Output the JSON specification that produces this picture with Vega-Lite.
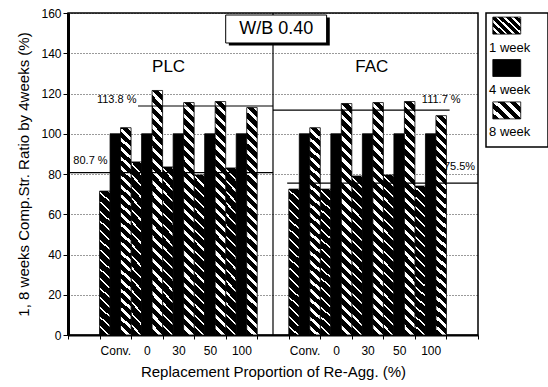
{
  "$schema": "https://vega.github.io/schema/vega-lite/v6.json",
  "padding": {"left": 16, "top": 6, "right": 0, "bottom": 0},
  "config": {
    "font": "Liberation Sans",
    "view": {"stroke": "#000", "strokeWidth": 1.5},
    "concat": {"spacing": 5}
  },
  "datasets": {
    "str": [
      {"slot": "PLC|Conv.", "series": "1 week", "value": 71.5},
      {"slot": "PLC|Conv.", "series": "4 week", "value": 100},
      {"slot": "PLC|Conv.", "series": "8 week", "value": 103},
      {"slot": "PLC|0", "series": "1 week", "value": 86},
      {"slot": "PLC|0", "series": "4 week", "value": 100},
      {"slot": "PLC|0", "series": "8 week", "value": 121.5},
      {"slot": "PLC|30", "series": "1 week", "value": 83.5},
      {"slot": "PLC|30", "series": "4 week", "value": 100},
      {"slot": "PLC|30", "series": "8 week", "value": 115.5},
      {"slot": "PLC|50", "series": "1 week", "value": 79.5},
      {"slot": "PLC|50", "series": "4 week", "value": 100},
      {"slot": "PLC|50", "series": "8 week", "value": 116},
      {"slot": "PLC|100", "series": "1 week", "value": 83},
      {"slot": "PLC|100", "series": "4 week", "value": 100},
      {"slot": "PLC|100", "series": "8 week", "value": 113},
      {"slot": "FAC|Conv.", "series": "1 week", "value": 72.5},
      {"slot": "FAC|Conv.", "series": "4 week", "value": 100},
      {"slot": "FAC|Conv.", "series": "8 week", "value": 103},
      {"slot": "FAC|0", "series": "1 week", "value": 72.5},
      {"slot": "FAC|0", "series": "4 week", "value": 100},
      {"slot": "FAC|0", "series": "8 week", "value": 115},
      {"slot": "FAC|30", "series": "1 week", "value": 79},
      {"slot": "FAC|30", "series": "4 week", "value": 100},
      {"slot": "FAC|30", "series": "8 week", "value": 115.5},
      {"slot": "FAC|50", "series": "1 week", "value": 79.5},
      {"slot": "FAC|50", "series": "4 week", "value": 100},
      {"slot": "FAC|50", "series": "8 week", "value": 116},
      {"slot": "FAC|100", "series": "1 week", "value": 74},
      {"slot": "FAC|100", "series": "4 week", "value": 100},
      {"slot": "FAC|100", "series": "8 week", "value": 109}
    ]
  },
  "hconcat": [
    {
      "width": 410,
      "height": 322,
      "resolve": {"scale": {"x": "independent"}},
      "layer": [
        {
          "data": {"values": [{}]},
          "mark": {"type": "text", "align": "left", "baseline": "bottom", "dy": -7, "fontSize": 11, "color": "#000"},
          "encoding": {
            "x": {"datum": 0.17, "type": "quantitative", "scale": {"domain": [0, 13], "nice": false, "zero": false}, "axis": null},
            "y": {"datum": 80.7, "type": "quantitative", "scale": {"domain": [0, 160]}, "axis": {"values": [0, 20, 40, 60, 80, 100, 120, 140, 160], "grid": true, "gridDash": [1, 2], "gridColor": "#000", "gridWidth": 0.8, "domainColor": "#000", "domainWidth": 3, "tickColor": "#000", "tickSize": 5, "labelFontSize": 12, "labelColor": "#000", "labelPadding": 2, "title": "1, 8 weeks Comp.Str. Ratio by 4weeks (%)", "titleFontSize": 15, "titleFontWeight": "normal", "titleColor": "#000", "titlePadding": 9}},
            "text": {"value": "80.7 %"}
          }
        },
        {
          "data": {"name": "str"},
          "encoding": {
            "x": {
              "field": "slot", "type": "nominal",
              "scale": {"domain": ["e1", "PLC|Conv.", "PLC|0", "PLC|30", "PLC|50", "PLC|100", "gap", "FAC|Conv.", "FAC|0", "FAC|30", "FAC|50", "FAC|100", "e2"], "paddingInner": 0, "paddingOuter": 0},
              "axis": {"orient": "bottom", "tickBand": "extent", "labelExpr": "indexof('' + datum.value, '|') > 0 ? split('' + datum.value, '|')[1] : ''", "labelAngle": 0, "domainColor": "#000", "domainWidth": 2, "tickColor": "#000", "tickSize": 4, "labelFontSize": 12, "labelColor": "#000", "labelPadding": 6, "title": "Replacement Proportion of Re-Agg. (%)", "titleFontSize": 15, "titleFontWeight": "normal", "titleColor": "#000", "titlePadding": 8, "grid": false}
            },
            "y": {"field": "value", "type": "quantitative", "scale": {"domain": [0, 160]}}
          },
          "layer": [
            {
              "transform": [{"filter": "datum.series === '1 week'"}],
              "mark": {"type": "bar", "width": {"band": 0.3333}, "xOffset": -10.5, "stroke": "#000", "strokeWidth": 0.8,
                "fill": {"gradient": "linear", "x1": 0, "y1": 1, "x2": 0.0708, "y2": -0.062, "stops": [
                  {"offset": 0, "color": "#000"}, {"offset": 0.05, "color": "#000"}, {"offset": 0.05, "color": "#fff"}, {"offset": 0.0625, "color": "#fff"},
                  {"offset": 0.0625, "color": "#000"}, {"offset": 0.1125, "color": "#000"}, {"offset": 0.1125, "color": "#fff"}, {"offset": 0.125, "color": "#fff"},
                  {"offset": 0.125, "color": "#000"}, {"offset": 0.175, "color": "#000"}, {"offset": 0.175, "color": "#fff"}, {"offset": 0.1875, "color": "#fff"},
                  {"offset": 0.1875, "color": "#000"}, {"offset": 0.2375, "color": "#000"}, {"offset": 0.2375, "color": "#fff"}, {"offset": 0.25, "color": "#fff"},
                  {"offset": 0.25, "color": "#000"}, {"offset": 0.3, "color": "#000"}, {"offset": 0.3, "color": "#fff"}, {"offset": 0.3125, "color": "#fff"},
                  {"offset": 0.3125, "color": "#000"}, {"offset": 0.3625, "color": "#000"}, {"offset": 0.3625, "color": "#fff"}, {"offset": 0.375, "color": "#fff"},
                  {"offset": 0.375, "color": "#000"}, {"offset": 0.425, "color": "#000"}, {"offset": 0.425, "color": "#fff"}, {"offset": 0.4375, "color": "#fff"},
                  {"offset": 0.4375, "color": "#000"}, {"offset": 0.4875, "color": "#000"}, {"offset": 0.4875, "color": "#fff"}, {"offset": 0.5, "color": "#fff"},
                  {"offset": 0.5, "color": "#000"}, {"offset": 0.55, "color": "#000"}, {"offset": 0.55, "color": "#fff"}, {"offset": 0.5625, "color": "#fff"},
                  {"offset": 0.5625, "color": "#000"}, {"offset": 0.6125, "color": "#000"}, {"offset": 0.6125, "color": "#fff"}, {"offset": 0.625, "color": "#fff"},
                  {"offset": 0.625, "color": "#000"}, {"offset": 0.675, "color": "#000"}, {"offset": 0.675, "color": "#fff"}, {"offset": 0.6875, "color": "#fff"},
                  {"offset": 0.6875, "color": "#000"}, {"offset": 0.7375, "color": "#000"}, {"offset": 0.7375, "color": "#fff"}, {"offset": 0.75, "color": "#fff"},
                  {"offset": 0.75, "color": "#000"}, {"offset": 0.8, "color": "#000"}, {"offset": 0.8, "color": "#fff"}, {"offset": 0.8125, "color": "#fff"},
                  {"offset": 0.8125, "color": "#000"}, {"offset": 0.8625, "color": "#000"}, {"offset": 0.8625, "color": "#fff"}, {"offset": 0.875, "color": "#fff"},
                  {"offset": 0.875, "color": "#000"}, {"offset": 0.925, "color": "#000"}, {"offset": 0.925, "color": "#fff"}, {"offset": 0.9375, "color": "#fff"},
                  {"offset": 0.9375, "color": "#000"}, {"offset": 0.9875, "color": "#000"}, {"offset": 0.9875, "color": "#fff"}, {"offset": 1, "color": "#fff"}
                ]}
              }
            },
            {
              "transform": [{"filter": "datum.series === '4 week'"}],
              "mark": {"type": "bar", "width": {"band": 0.3333}, "xOffset": 0, "fill": "#000", "stroke": "#000", "strokeWidth": 0.8}
            },
            {
              "transform": [{"filter": "datum.series === '8 week'"}],
              "mark": {"type": "bar", "width": {"band": 0.3333}, "xOffset": 10.5, "stroke": "#000", "strokeWidth": 0.8,
                "fill": {"gradient": "linear", "x1": 0, "y1": 1, "x2": 0.0474, "y2": -0.0433, "stops": [
                  {"offset": 0, "color": "#000"}, {"offset": 0.0261, "color": "#000"}, {"offset": 0.0261, "color": "#fff"}, {"offset": 0.0435, "color": "#fff"},
                  {"offset": 0.0435, "color": "#000"}, {"offset": 0.0696, "color": "#000"}, {"offset": 0.0696, "color": "#fff"}, {"offset": 0.087, "color": "#fff"},
                  {"offset": 0.087, "color": "#000"}, {"offset": 0.113, "color": "#000"}, {"offset": 0.113, "color": "#fff"}, {"offset": 0.1304, "color": "#fff"},
                  {"offset": 0.1304, "color": "#000"}, {"offset": 0.1565, "color": "#000"}, {"offset": 0.1565, "color": "#fff"}, {"offset": 0.1739, "color": "#fff"},
                  {"offset": 0.1739, "color": "#000"}, {"offset": 0.2, "color": "#000"}, {"offset": 0.2, "color": "#fff"}, {"offset": 0.2174, "color": "#fff"},
                  {"offset": 0.2174, "color": "#000"}, {"offset": 0.2435, "color": "#000"}, {"offset": 0.2435, "color": "#fff"}, {"offset": 0.2609, "color": "#fff"},
                  {"offset": 0.2609, "color": "#000"}, {"offset": 0.287, "color": "#000"}, {"offset": 0.287, "color": "#fff"}, {"offset": 0.3043, "color": "#fff"},
                  {"offset": 0.3043, "color": "#000"}, {"offset": 0.3304, "color": "#000"}, {"offset": 0.3304, "color": "#fff"}, {"offset": 0.3478, "color": "#fff"},
                  {"offset": 0.3478, "color": "#000"}, {"offset": 0.3739, "color": "#000"}, {"offset": 0.3739, "color": "#fff"}, {"offset": 0.3913, "color": "#fff"},
                  {"offset": 0.3913, "color": "#000"}, {"offset": 0.4174, "color": "#000"}, {"offset": 0.4174, "color": "#fff"}, {"offset": 0.4348, "color": "#fff"},
                  {"offset": 0.4348, "color": "#000"}, {"offset": 0.4609, "color": "#000"}, {"offset": 0.4609, "color": "#fff"}, {"offset": 0.4783, "color": "#fff"},
                  {"offset": 0.4783, "color": "#000"}, {"offset": 0.5043, "color": "#000"}, {"offset": 0.5043, "color": "#fff"}, {"offset": 0.5217, "color": "#fff"},
                  {"offset": 0.5217, "color": "#000"}, {"offset": 0.5478, "color": "#000"}, {"offset": 0.5478, "color": "#fff"}, {"offset": 0.5652, "color": "#fff"},
                  {"offset": 0.5652, "color": "#000"}, {"offset": 0.5913, "color": "#000"}, {"offset": 0.5913, "color": "#fff"}, {"offset": 0.6087, "color": "#fff"},
                  {"offset": 0.6087, "color": "#000"}, {"offset": 0.6348, "color": "#000"}, {"offset": 0.6348, "color": "#fff"}, {"offset": 0.6522, "color": "#fff"},
                  {"offset": 0.6522, "color": "#000"}, {"offset": 0.6783, "color": "#000"}, {"offset": 0.6783, "color": "#fff"}, {"offset": 0.6957, "color": "#fff"},
                  {"offset": 0.6957, "color": "#000"}, {"offset": 0.7217, "color": "#000"}, {"offset": 0.7217, "color": "#fff"}, {"offset": 0.7391, "color": "#fff"},
                  {"offset": 0.7391, "color": "#000"}, {"offset": 0.7652, "color": "#000"}, {"offset": 0.7652, "color": "#fff"}, {"offset": 0.7826, "color": "#fff"},
                  {"offset": 0.7826, "color": "#000"}, {"offset": 0.8087, "color": "#000"}, {"offset": 0.8087, "color": "#fff"}, {"offset": 0.8261, "color": "#fff"},
                  {"offset": 0.8261, "color": "#000"}, {"offset": 0.8522, "color": "#000"}, {"offset": 0.8522, "color": "#fff"}, {"offset": 0.8696, "color": "#fff"},
                  {"offset": 0.8696, "color": "#000"}, {"offset": 0.8957, "color": "#000"}, {"offset": 0.8957, "color": "#fff"}, {"offset": 0.913, "color": "#fff"},
                  {"offset": 0.913, "color": "#000"}, {"offset": 0.9391, "color": "#000"}, {"offset": 0.9391, "color": "#fff"}, {"offset": 0.9565, "color": "#fff"},
                  {"offset": 0.9565, "color": "#000"}, {"offset": 0.9826, "color": "#000"}, {"offset": 0.9826, "color": "#fff"}, {"offset": 1, "color": "#fff"}
                ]}
              }
            }
          ]
        },
        {
          "data": {"values": [{}]},
          "layer": [
            {
              "mark": {"type": "rule", "color": "#000", "strokeWidth": 1.2},
              "encoding": {
                "x": {"datum": 6.5, "type": "quantitative", "scale": {"domain": [0, 13], "nice": false, "zero": false}, "axis": null},
                "y": {"datum": 0, "type": "quantitative"},
                "y2": {"datum": 160}
              }
            },
            {
              "mark": {"type": "rule", "color": "#000", "strokeWidth": 1.2},
              "encoding": {
                "x": {"datum": 0, "type": "quantitative", "scale": {"domain": [0, 13], "nice": false, "zero": false}, "axis": null},
                "x2": {"datum": 6.5},
                "y": {"datum": 80.7, "type": "quantitative"}
              }
            },
            {
              "mark": {"type": "rule", "color": "#000", "strokeWidth": 1.2},
              "encoding": {
                "x": {"datum": 2.22, "type": "quantitative", "scale": {"domain": [0, 13], "nice": false, "zero": false}, "axis": null},
                "x2": {"datum": 6.5},
                "y": {"datum": 113.8, "type": "quantitative"}
              }
            },
            {
              "mark": {"type": "rule", "color": "#000", "strokeWidth": 1.2},
              "encoding": {
                "x": {"datum": 6.5, "type": "quantitative", "scale": {"domain": [0, 13], "nice": false, "zero": false}, "axis": null},
                "x2": {"datum": 12.1},
                "y": {"datum": 111.7, "type": "quantitative"}
              }
            },
            {
              "mark": {"type": "rule", "color": "#000", "strokeWidth": 1.2},
              "encoding": {
                "x": {"datum": 6.95, "type": "quantitative", "scale": {"domain": [0, 13], "nice": false, "zero": false}, "axis": null},
                "x2": {"datum": 13},
                "y": {"datum": 75.5, "type": "quantitative"}
              }
            },
            {
              "mark": {"type": "text", "align": "right", "baseline": "bottom", "dy": -1, "fontSize": 11, "color": "#000"},
              "encoding": {
                "x": {"datum": 2.17, "type": "quantitative", "scale": {"domain": [0, 13], "nice": false, "zero": false}, "axis": null},
                "y": {"datum": 113.8, "type": "quantitative"},
                "text": {"value": "113.8 %"}
              }
            },
            {
              "mark": {"type": "text", "align": "left", "baseline": "bottom", "dy": -5, "fontSize": 11, "color": "#000"},
              "encoding": {
                "x": {"datum": 11.22, "type": "quantitative", "scale": {"domain": [0, 13], "nice": false, "zero": false}, "axis": null},
                "y": {"datum": 111.7, "type": "quantitative"},
                "text": {"value": "111.7 %"}
              }
            },
            {
              "mark": {"type": "text", "align": "left", "baseline": "bottom", "dy": -11, "fontSize": 11, "color": "#000"},
              "encoding": {
                "x": {"datum": 11.92, "type": "quantitative", "scale": {"domain": [0, 13], "nice": false, "zero": false}, "axis": null},
                "y": {"datum": 75.5, "type": "quantitative"},
                "text": {"value": "75.5%"}
              }
            },
            {
              "mark": {"type": "text", "align": "center", "baseline": "middle", "fontSize": 17, "color": "#000"},
              "encoding": {
                "x": {"datum": 3.19, "type": "quantitative", "scale": {"domain": [0, 13], "nice": false, "zero": false}, "axis": null},
                "y": {"datum": 133.2, "type": "quantitative"},
                "text": {"value": "PLC"}
              }
            },
            {
              "mark": {"type": "text", "align": "center", "baseline": "middle", "fontSize": 17, "color": "#000"},
              "encoding": {
                "x": {"datum": 9.63, "type": "quantitative", "scale": {"domain": [0, 13], "nice": false, "zero": false}, "axis": null},
                "y": {"datum": 133.2, "type": "quantitative"},
                "text": {"value": "FAC"}
              }
            },
            {
              "mark": {"type": "rect", "fill": "#000"},
              "encoding": {
                "x": {"datum": 5.1, "type": "quantitative", "scale": {"domain": [0, 13], "nice": false, "zero": false}, "axis": null},
                "x2": {"datum": 8.3},
                "y": {"datum": 157.8, "type": "quantitative"},
                "y2": {"datum": 143.8}
              }
            },
            {
              "mark": {"type": "rect", "fill": "#fff", "stroke": "#000", "strokeWidth": 1},
              "encoding": {
                "x": {"datum": 5.0, "type": "quantitative", "scale": {"domain": [0, 13], "nice": false, "zero": false}, "axis": null},
                "x2": {"datum": 8.2},
                "y": {"datum": 159, "type": "quantitative"},
                "y2": {"datum": 145.1}
              }
            },
            {
              "mark": {"type": "text", "align": "center", "baseline": "middle", "fontSize": 18, "color": "#000"},
              "encoding": {
                "x": {"datum": 6.6, "type": "quantitative", "scale": {"domain": [0, 13], "nice": false, "zero": false}, "axis": null},
                "y": {"datum": 152, "type": "quantitative"},
                "text": {"value": "W/B 0.40"}
              }
            }
          ]
        }
      ]
    },
    {
      "width": 62,
      "height": 134,
      "data": {"name": "str"},
      "transform": [{"filter": "datum.slot === 'PLC|Conv.'"}],
      "encoding": {
        "y": {"field": "series", "type": "nominal", "scale": {"domain": ["1 week", "4 week", "8 week"], "paddingInner": 0, "paddingOuter": 0.08}, "axis": null}
      },
      "layer": [
        {
          "transform": [{"filter": "datum.series === '1 week'"}],
          "mark": {"type": "bar", "height": 17, "yOffset": -12, "stroke": "#000", "strokeWidth": 0.8,
            "fill": {"gradient": "linear", "x1": 0, "y1": 1, "x2": 1.163, "y2": 0.256, "stops": [
              {"offset": 0, "color": "#000"}, {"offset": 0.1083, "color": "#000"}, {"offset": 0.1083, "color": "#fff"}, {"offset": 0.1667, "color": "#fff"},
              {"offset": 0.1667, "color": "#000"}, {"offset": 0.275, "color": "#000"}, {"offset": 0.275, "color": "#fff"}, {"offset": 0.3333, "color": "#fff"},
              {"offset": 0.3333, "color": "#000"}, {"offset": 0.4417, "color": "#000"}, {"offset": 0.4417, "color": "#fff"}, {"offset": 0.5, "color": "#fff"},
              {"offset": 0.5, "color": "#000"}, {"offset": 0.6083, "color": "#000"}, {"offset": 0.6083, "color": "#fff"}, {"offset": 0.6667, "color": "#fff"},
              {"offset": 0.6667, "color": "#000"}, {"offset": 0.775, "color": "#000"}, {"offset": 0.775, "color": "#fff"}, {"offset": 0.8333, "color": "#fff"},
              {"offset": 0.8333, "color": "#000"}, {"offset": 0.9417, "color": "#000"}, {"offset": 0.9417, "color": "#fff"}, {"offset": 1, "color": "#fff"}
            ]}
          },
          "encoding": {
            "x": {"datum": 1.1, "type": "quantitative", "scale": {"domain": [0, 10], "nice": false, "zero": false}, "axis": null},
            "x2": {"datum": 5.6}
          }
        },
        {
          "transform": [{"filter": "datum.series === '4 week'"}],
          "mark": {"type": "bar", "height": 17, "yOffset": -12, "fill": "#000", "stroke": "#000", "strokeWidth": 0.8},
          "encoding": {
            "x": {"datum": 1.1, "type": "quantitative", "scale": {"domain": [0, 10], "nice": false, "zero": false}, "axis": null},
            "x2": {"datum": 5.6}
          }
        },
        {
          "transform": [{"filter": "datum.series === '8 week'"}],
          "mark": {"type": "bar", "height": 17, "yOffset": -12, "stroke": "#000", "strokeWidth": 0.8,
            "fill": {"gradient": "linear", "x1": 0, "y1": 1, "x2": 1.163, "y2": 0.256, "stops": [
              {"offset": 0, "color": "#000"}, {"offset": 0.1375, "color": "#000"}, {"offset": 0.1375, "color": "#fff"}, {"offset": 0.25, "color": "#fff"},
              {"offset": 0.25, "color": "#000"}, {"offset": 0.3875, "color": "#000"}, {"offset": 0.3875, "color": "#fff"}, {"offset": 0.5, "color": "#fff"},
              {"offset": 0.5, "color": "#000"}, {"offset": 0.6375, "color": "#000"}, {"offset": 0.6375, "color": "#fff"}, {"offset": 0.75, "color": "#fff"},
              {"offset": 0.75, "color": "#000"}, {"offset": 0.8875, "color": "#000"}, {"offset": 0.8875, "color": "#fff"}, {"offset": 1, "color": "#fff"}
            ]}
          },
          "encoding": {
            "x": {"datum": 1.1, "type": "quantitative", "scale": {"domain": [0, 10], "nice": false, "zero": false}, "axis": null},
            "x2": {"datum": 5.6}
          }
        },
        {
          "mark": {"type": "text", "align": "left", "baseline": "middle", "yOffset": 10, "fontSize": 13, "color": "#000"},
          "encoding": {
            "x": {"datum": 0.5, "type": "quantitative", "scale": {"domain": [0, 10], "nice": false, "zero": false}, "axis": null},
            "text": {"field": "series"}
          }
        }
      ]
    }
  ]
}
